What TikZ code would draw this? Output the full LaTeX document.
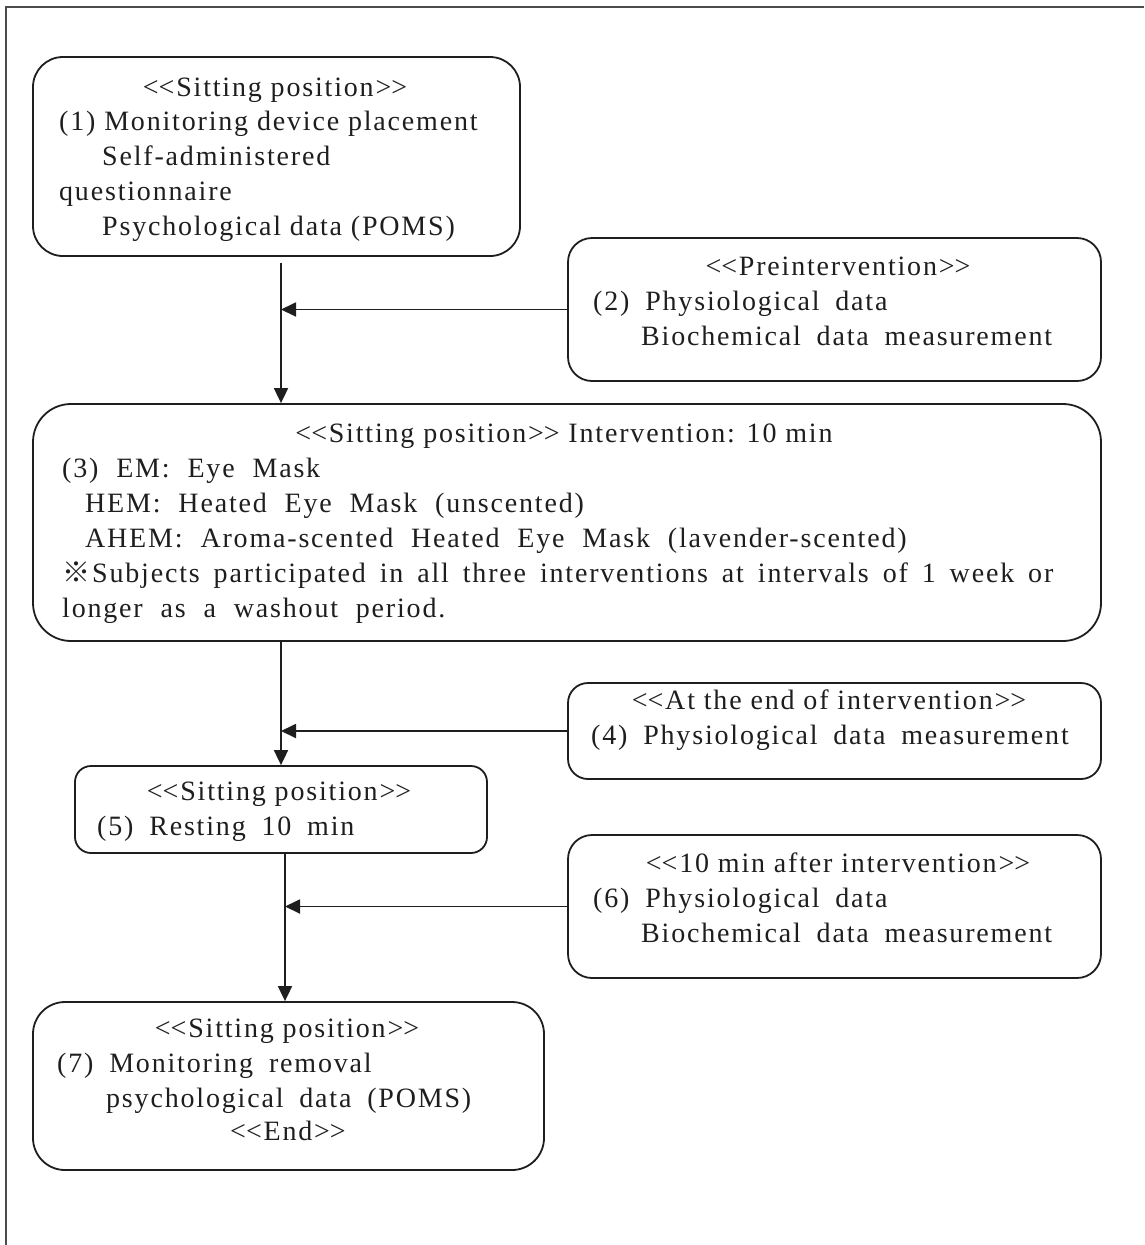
\documentclass[tikz,border=0pt]{standalone}
\usepackage{fontspec}
\setmainfont{Liberation Serif}[LetterSpace=6.5]
\newfontfamily\cjk{Noto Sans CJK JP}
\usetikzlibrary{arrows.meta}
\newcommand\ws{\hspace{7pt}\ }
\newcommand\wt{\hspace{9pt}\ }
\newcommand\dlt{<\kern0pt<}
\newcommand\dgt{>\kern0pt>}
\definecolor{ink}{HTML}{1E1E1E}
\tikzset{
  box/.style={draw=ink, line width=1.8pt, inner sep=0pt},
  txt/.style={inner sep=0pt, text height=20pt, text depth=6pt, anchor=west, text=ink, font=\fontsize{28pt}{32pt}\selectfont},
  hd/.style={txt, anchor=center},
  conn/.style={draw=ink, line width=1.8pt},
  tip/.style={-{Triangle[length=15pt,width=14pt]}},
  frame/.style={draw=black!70, line width=2pt}
}
\begin{document}
\begin{tikzpicture}[x=1pt,y=-1pt]
\useasboundingbox (0,0) rectangle (1144,1245);
\draw[frame] (6,1245) -- (6,7) -- (1144,7);

% boxes
\node[box, rounded corners=30pt, minimum width=487pt, minimum height=199pt] (b1) at (276.5,156.5) {};
\node[box, rounded corners=24pt, minimum width=533pt, minimum height=143pt] (b2) at (834.5,309.5) {};
\node[box, rounded corners=38pt, minimum width=1068pt, minimum height=237pt] (b3) at (567,522.5) {};
\node[box, rounded corners=20pt, minimum width=533pt, minimum height=96pt] (b4) at (834.5,731) {};
\node[box, rounded corners=16pt, minimum width=412pt, minimum height=87pt] (b5) at (281,809.5) {};
\node[box, rounded corners=24pt, minimum width=533pt, minimum height=143pt] (b6) at (834.5,906.5) {};
\node[box, rounded corners=32pt, minimum width=511pt, minimum height=168pt] (b7) at (288.5,1086) {};

% texts box 1
\node[hd] (t1a) at (275,89) {\dlt Sitting position\dgt};
\node[txt] (t1b) at (59,123) {(1) Monitoring device placement};
\node[txt] (t1c) at (102,158) {Self-administered};
\node[txt] (t1d) at (59,193) {questionnaire};
\node[txt] (t1e) at (102,228) {Psychological data (POMS)};
% box 2
\node[hd] (t2a) at (838,268) {\dlt Preintervention\dgt};
\node[txt] (t2b) at (593,303) {(2)\ws Physiological\ws data};
\node[txt] (t2c) at (641,338) {Biochemical\ws data\ws measurement};
% box 3
\node[hd] (t3a) at (564,435) {\dlt Sitting position\dgt{} Intervention: 10 min};
\node[txt] (t3b) at (62,470) {(3)\wt EM:\wt Eye\wt Mask};
\node[txt] (t3c) at (85,505) {HEM:\wt Heated\wt Eye\wt Mask\wt (unscented)};
\node[txt] (t3d) at (85,540) {AHEM:\wt Aroma-scented\wt Heated\wt Eye\wt Mask\wt (lavender-scented)};
\node[txt] (t3e) at (62,575) {\makebox[991pt][s]{{\cjk ※}\hspace{2pt}Subjects participated in all three interventions at intervals of 1 week or}};
\node[txt] (t3f) at (62,610) {longer\wt as\wt a\wt washout\wt period.};
% box 4
\node[hd] (t4a) at (829,702) {\dlt At the end of intervention\dgt};
\node[txt] (t4b) at (591,737) {(4)\ws Physiological\ws data\ws measurement};
% box 5
\node[hd] (t5a) at (279,793) {\dlt Sitting position\dgt};
\node[txt] (t5b) at (97,828) {(5)\ws Resting\ws 10\ws min};
% box 6
\node[hd] (t6a) at (838,865) {\dlt 10 min after intervention\dgt};
\node[txt] (t6b) at (593,900) {(6)\ws Physiological\ws data};
\node[txt] (t6c) at (641,935) {Biochemical\ws data\ws measurement};
% box 7
\node[hd] (t7a) at (287,1030) {\dlt Sitting position\dgt};
\node[txt] (t7b) at (57,1065) {(7)\ws Monitoring\ws removal};
\node[txt] (t7c) at (106,1100) {psychological\ws data\ws (POMS)};
\node[hd] (t7d) at (288,1133) {\dlt End\dgt};

% connectors
\coordinate (v1) at (281,0);
\coordinate (v2) at (285,0);
\draw[conn, tip] ([yshift=-6pt]b1.south -| v1) -- (b3.north -| v1);
\draw[conn, tip] (b2.west) -- (b2.west -| v1);
\draw[conn, tip] (b3.south -| b5.north) -- (b5.north);
\draw[conn, tip] (b4.west) -- (b4.west -| b5.north);
\draw[conn, tip] (b5.south -| v2) -- (b7.north -| v2);
\draw[conn, tip] (b6.west) -- (b6.west -| v2);
\end{tikzpicture}
\end{document}
